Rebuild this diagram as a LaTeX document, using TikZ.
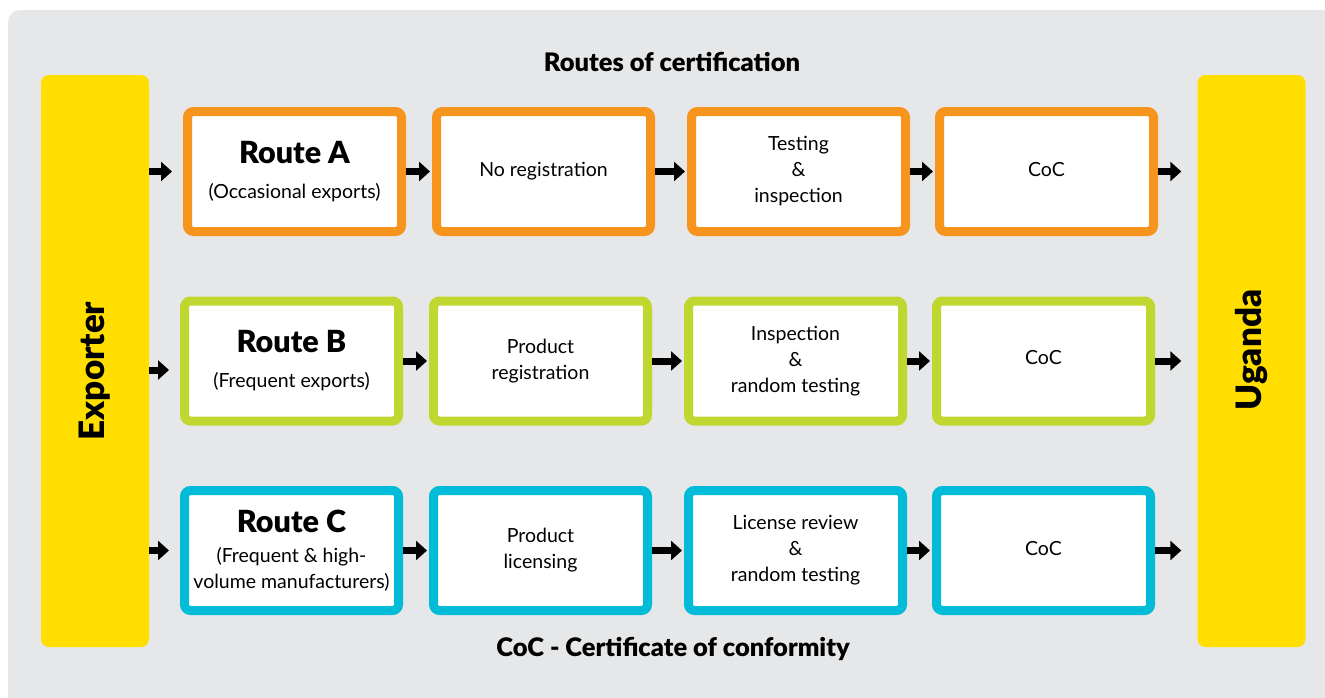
\documentclass[tikz,border=0pt]{standalone}
\usepackage{fontspec}
\setmainfont{Lato}
\newfontfamily\heavy{Lato Black}
\usetikzlibrary{arrows.meta}
\definecolor{bggray}{HTML}{E6E7E8}
\definecolor{cyel}{HTML}{FFDE00}
\definecolor{corange}{HTML}{F7941D}
\definecolor{cgreen}{HTML}{C0D72F}
\definecolor{cblue}{HTML}{00BCD9}
\tikzset{
  box/.style={draw=#1, line width=9pt, fill=white, rounded corners=6pt,
    minimum width=214pt, minimum height=120pt, align=center, inner sep=0pt,
    font=\fontsize{19.5}{26}\selectfont},
  bar/.style={fill=cyel, rounded corners=8pt, minimum width=108pt, minimum height=572pt, inner sep=0pt},
  bartext/.style={rotate=90, font=\heavy\fontsize{35}{40}\selectfont},
  arr/.style={line width=7pt, -{Triangle[length=11pt,width=19pt]}},
  title/.style={font=\heavy\fontsize{25.5}{30}\selectfont},
}
\newcommand{\rtitle}[1]{{\heavy\fontsize{30.5}{31}\selectfont #1}}
\begin{document}
\begin{tikzpicture}[x=1pt,y=-1pt]
\useasboundingbox (0,0) rectangle (1325,697);
\fill[bggray, rounded corners=12pt] (8,10) rectangle (1345,720);
% bars
\node[bar] (exp) at (95,361) {};
\node[bartext] (expt) at (95,371) {Exporter};
\node[bar] (uga) at (1251.5,361) {};
\node[bartext] (ugat) at (1251.5,350) {Uganda};
% titles
\node[title] (t1) at (672,62) {Routes of certification};
\node[title] (t2) at (673,649) {CoC - Certificate of conformity};
% Row A
\node[box=corange] (a1) at (294.5,171.5) {\rtitle{Route A}\\[9pt](Occasional exports)};
\node[box=corange] (a2) at (543.5,171.5) {\raisebox{4pt}{No registration}};
\node[box=corange] (a3) at (798.5,171.5) {Testing\\\&\\inspection};
\node[box=corange] (a4) at (1046.5,171.5) {\raisebox{4pt}{CoC}};
% Row B
\node[box=cgreen] (b1) at (291.5,361) {\rtitle{Route B}\\[9pt](Frequent exports)};
\node[box=cgreen] (b2) at (540.5,361) {Product\\registration};
\node[box=cgreen] (b3) at (795.5,361) {Inspection\\\&\\random testing};
\node[box=cgreen] (b4) at (1043.5,361) {\raisebox{8pt}{CoC}};
% Row C
\node[box=cblue] (c1) at (291.5,550.5) {\rtitle{Route C}\\[4pt](Frequent \& high-\\volume manufacturers)};
\node[box=cblue] (c2) at (540.5,550.5) {Product\\licensing};
\node[box=cblue] (c3) at (795.5,550.5) {License review\\\&\\random testing};
\node[box=cblue] (c4) at (1043.5,550.5) {\raisebox{4pt}{CoC}};
% arrows
\draw[arr, shorten >=11pt] (exp.east |- a1.west) -- (a1.west);
\draw[arr, shorten >=2pt] (a1.east) -- (a2.west);
\draw[arr, shorten >=2pt] (a2.east) -- (a3.west);
\draw[arr, shorten >=2pt] (a3.east) -- (a4.west);
\draw[arr, shorten >=16pt] (a4.east) -- (uga.west |- a4.east);
\draw[arr, shorten >=11pt] ([yshift=-9pt]exp.east |- b1.west) -- ([yshift=-9pt]b1.west);
\draw[arr, shorten >=2pt] (b1.east) -- (b2.west);
\draw[arr, shorten >=2pt] (b2.east) -- (b3.west);
\draw[arr, shorten >=2pt] (b3.east) -- (b4.west);
\draw[arr, shorten >=16pt] (b4.east) -- (uga.west |- b4.east);
\draw[arr, shorten >=11pt] (exp.east |- c1.west) -- (c1.west);
\draw[arr, shorten >=2pt] (c1.east) -- (c2.west);
\draw[arr, shorten >=2pt] (c2.east) -- (c3.west);
\draw[arr, shorten >=2pt] (c3.east) -- (c4.west);
\draw[arr, shorten >=16pt] (c4.east) -- (uga.west |- c4.east);
\end{tikzpicture}
\end{document}
